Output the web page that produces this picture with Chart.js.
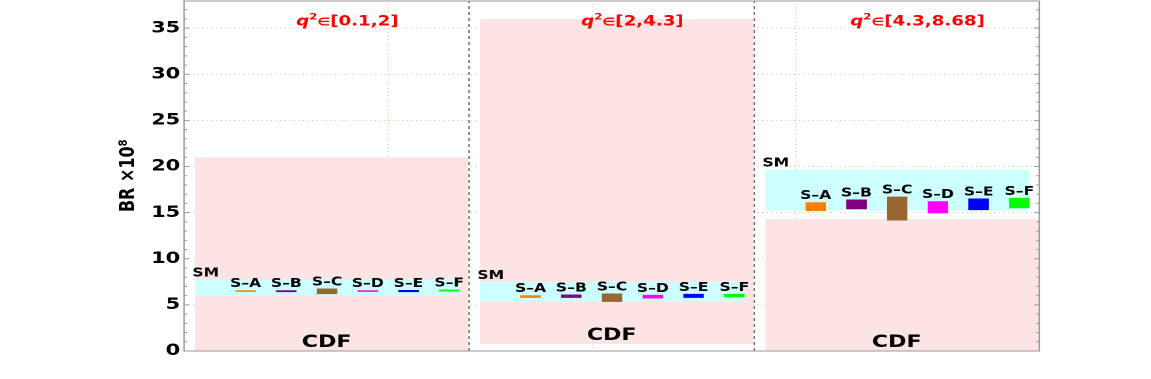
<!DOCTYPE html>
<html lang="en">
<head>
<meta charset="UTF-8">
<title>BR per q2 bin</title>
<script src="https://cdn.jsdelivr.net/npm/chart.js"></script>
<style>
  html, body { margin: 0; padding: 0; background: #fff; overflow: hidden; }
  /* the original figure is stretched sideways, so draw narrow and stretch */
  #wrap { width: 885px; height: 379px; transform: scaleX(1.30056); transform-origin: 0 0; }
</style>
</head>
<body>
<div id="wrap"><canvas id="brChart"></canvas></div>
<script>
const bins = ['[0.1,2]', '[2,4.3]', '[4.3,8.68]'];
const scenarios = ['S–A', 'S–B', 'S–C', 'S–D', 'S–E', 'S–F'];
const scenarioColors = ['#ff8000', '#800080', '#996633', '#ff00ff', '#0000ff', '#00ff00'];

// BR x 10^8, one value per q^2 bin
const cdfLow  = [0, 0.76, 0];
const cdfHigh = [21.0, 36.0, 14.33];
const smLow   = [5.98, 5.40, 15.23];
const smHigh  = [7.75, 7.49, 19.66];

// rows: S-A .. S-F, columns: q^2 bins
const scenLow = [
  [6.41, 5.76, 15.16],
  [6.38, 5.76, 15.37],
  [6.16, 5.33, 14.15],
  [6.41, 5.69, 14.94],
  [6.38, 5.76, 15.27],
  [6.45, 5.83, 15.48]
];
const scenHigh = [
  [6.59, 6.05, 16.13],
  [6.59, 6.12, 16.42],
  [6.77, 6.23, 16.74],
  [6.59, 6.08, 16.24],
  [6.62, 6.19, 16.53],
  [6.66, 6.19, 16.60]
];
const yTicks = [0, 5, 10, 15, 20, 25, 30, 35];

// layout inside one panel (panel = 1 x unit)
const BOX_L = 0.038, CDF_R = 0.997, SM_R = 0.966;
const MID = 0.573, STEP = 0.1429, HALF = 0.0363;
const xGrid = [0.716, 1.432, 2.147];
const CDF_COLOR = 'rgb(253,228,228)';
const SM_COLOR = 'rgb(204,255,255)';
const GRID_COLOR = 'rgba(195,160,115,0.55)';
const FONT = '"DejaVu Sans", sans-serif';

function rect(x0, x1, lo, hi, color, order) {
  return {
    data: [{x: x0, y: hi}, {x: x1, y: hi}],
    fill: {value: lo},
    backgroundColor: color,
    borderColor: 'rgba(0,0,0,0)',
    borderWidth: 1,
    pointRadius: 0,
    order: order
  };
}

const datasets = [];
bins.forEach((b, p) => {
  datasets.push(rect(p + BOX_L, p + CDF_R, cdfLow[p], cdfHigh[p], CDF_COLOR, 30));
  datasets.push(rect(p + BOX_L, p + SM_R, smLow[p], smHigh[p], SM_COLOR, 20));
  scenarios.forEach((s, k) => {
    const c = p + MID + (k - 2.5) * STEP;
    datasets.push(rect(c - HALF, c + HALF, scenLow[k][p], scenHigh[k][p], scenarioColors[k], 10));
  });
});
// dashed separators between the bins
[1, 2].forEach(xv => {
  datasets.push({
    data: [{x: xv, y: 0}, {x: xv, y: 38}],
    borderColor: '#555', borderWidth: 1, borderDash: [3, 3],
    pointRadius: 0, fill: false, order: 0
  });
});

function drawBinTitle(ctx, bin, cx, by) {
  const parts = [
    {t: 'q', f: 'italic bold 14px ' + FONT, dy: 0},
    {t: '2', f: 'bold 9px ' + FONT, dy: -6},
    {t: '∈', f: 'bold 11px ' + FONT, dy: 0},
    {t: bin, f: 'bold 14px ' + FONT, dy: 0}
  ];
  let total = 0;
  parts.forEach(pt => { ctx.font = pt.f; pt.w = ctx.measureText(pt.t).width; total += pt.w; });
  let x = cx - total / 2;
  ctx.fillStyle = '#ff0000';
  ctx.textAlign = 'left';
  parts.forEach(pt => { ctx.font = pt.f; ctx.fillText(pt.t, x, by + pt.dy); x += pt.w; });
}

const labelPlugin = {
  id: 'labels',
  afterDatasetsDraw(chart) {
    const {ctx, scales: {x, y}} = chart;
    ctx.save();
    ctx.textBaseline = 'alphabetic';
    bins.forEach((b, p) => {
      ctx.fillStyle = '#000';
      ctx.font = 'bold 12px ' + FONT;
      ctx.textAlign = 'center';
      scenarios.forEach((s, k) => {
        ctx.fillText(s, x.getPixelForValue(p + MID + (k - 2.5) * STEP), y.getPixelForValue(scenHigh[k][p]) - 3);
      });
      ctx.textAlign = 'left';
      ctx.fillText('SM', x.getPixelForValue(p + BOX_L) - 2, y.getPixelForValue(smHigh[p]) - 3);
      ctx.font = 'bold 17px ' + FONT;
      ctx.textAlign = 'center';
      ctx.fillText('CDF', x.getPixelForValue(p + 0.5), y.getPixelForValue(cdfLow[p]) - 4);
      drawBinTitle(ctx, b, x.getPixelForValue(p + MID), chart.chartArea.top + 25);
    });
    ctx.restore();
  }
};

const framePlugin = {
  id: 'frame',
  afterDraw(chart) {
    const {ctx, chartArea: a, scales: {y}} = chart;
    ctx.save();
    ctx.strokeStyle = '#999';
    ctx.lineWidth = 1;
    ctx.strokeRect(a.left, a.top + 0.5, a.right - a.left, a.bottom - a.top - 0.5);
    for (let v = 0; v < 38; v++) {
      const py = y.getPixelForValue(v);
      const len = v % 5 === 0 ? 4 : 2.5;
      ctx.beginPath();
      ctx.moveTo(a.left, py); ctx.lineTo(a.left + len, py);
      ctx.moveTo(a.right, py); ctx.lineTo(a.right - len, py);
      ctx.stroke();
    }
    ctx.restore();
  }
};

new Chart(document.getElementById('brChart'), {
  type: 'line',
  data: {datasets: datasets},
  options: {
    responsive: true,
    maintainAspectRatio: false,
    devicePixelRatio: 2,
    animation: false,
    events: [],
    layout: {padding: {left: 0, right: 85.9, top: 0, bottom: 28}},
    plugins: {legend: {display: false}, tooltip: {enabled: false}},
    scales: {
      x: {
        type: 'linear', min: 0, max: 3,
        afterBuildTicks: s => { s.ticks = xGrid.map(v => ({value: v})); },
        afterFit: s => { s.height = 0; s.paddingLeft = 0; s.paddingRight = 0; },
        ticks: {display: false},
        grid: {color: GRID_COLOR, drawTicks: false},
        border: {display: false, dash: [1, 2.5]}
      },
      y: {
        type: 'linear', min: 0, max: 38,
        afterBuildTicks: s => { s.ticks = yTicks.map(v => ({value: v})); },
        afterFit: s => { s.width = 141.5; s.paddingTop = 0; s.paddingBottom = 0; },
        ticks: {color: '#000', padding: 3, font: {family: FONT, size: 16, weight: 'bold'}},
        grid: {color: GRID_COLOR, drawTicks: false},
        border: {display: false, dash: [1, 2.5]},
        title: {
          display: true, text: 'BR ×10⁸', color: '#000',
          font: {family: FONT, size: 16, weight: 'bold'},
          padding: {top: 89, bottom: 0}
        }
      }
    }
  },
  plugins: [labelPlugin, framePlugin]
});
</script>
</body>
</html>
